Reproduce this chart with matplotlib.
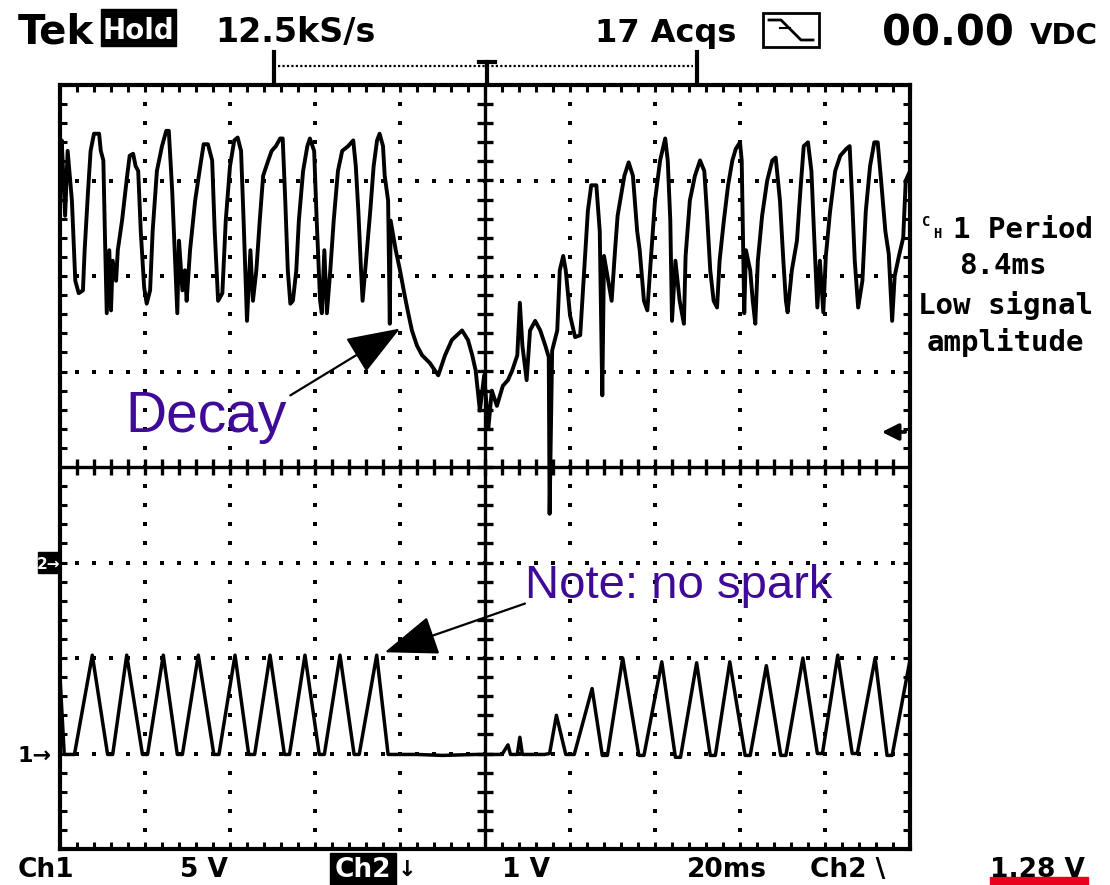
import numpy as np
import matplotlib
matplotlib.use("Agg")
import matplotlib.pyplot as plt
from matplotlib.patches import Rectangle, FancyArrowPatch, ArrowStyle
from matplotlib.lines import Line2D
from matplotlib.ticker import MultipleLocator
from matplotlib.transforms import Affine2D
from matplotlib import font_manager as fm

# ---------------- data (screen divisions: x 0..10, y 0..8 from bottom) ----------------
ch1_x = [0.00, 0.02, 0.06, 0.09, 0.14, 0.18, 0.22, 0.27, 0.29, 0.33,
         0.36, 0.40, 0.46, 0.48, 0.51, 0.53, 0.55, 0.58, 0.60, 0.62,
         0.66, 0.68, 0.73, 0.79, 0.82, 0.86, 0.89, 0.92, 0.95, 0.99,
         1.02, 1.06, 1.09, 1.14, 1.20, 1.25, 1.28, 1.32, 1.38, 1.40,
         1.44, 1.47, 1.49, 1.53, 1.59, 1.65, 1.69, 1.74, 1.79, 1.82,
         1.86, 1.91, 1.95, 2.00, 2.05, 2.09, 2.13, 2.16, 2.20, 2.24,
         2.27, 2.31, 2.35, 2.39, 2.45, 2.49, 2.54, 2.59, 2.62, 2.65,
         2.68, 2.71, 2.74, 2.78, 2.81, 2.86, 2.91, 2.94, 2.99, 3.02,
         3.06, 3.08, 3.11, 3.14, 3.18, 3.22, 3.27, 3.32, 3.39, 3.45,
         3.48, 3.51, 3.54, 3.56, 3.60, 3.65, 3.69, 3.73, 3.76, 3.80,
         3.82, 3.86, 3.88, 3.89, 3.95, 4.00, 4.05, 4.09, 4.14, 4.20,
         4.26, 4.35, 4.45, 4.53, 4.61, 4.73, 4.80, 4.85, 4.89, 4.94,
         4.99, 5.04, 5.08, 5.14, 5.21, 5.27, 5.32, 5.38, 5.41, 5.44,
         5.49, 5.53, 5.59, 5.65, 5.71, 5.75, 5.76, 5.79, 5.85, 5.88,
         5.92, 5.95, 6.00, 6.06, 6.12, 6.16, 6.21, 6.25, 6.31, 6.35,
         6.38, 6.40, 6.45, 6.49, 6.53, 6.56, 6.64, 6.69, 6.74, 6.79,
         6.82, 6.87, 6.91, 6.95, 7.00, 7.06, 7.12, 7.15, 7.18, 7.20,
         7.24, 7.29, 7.34, 7.36, 7.41, 7.47, 7.53, 7.58, 7.61, 7.65,
         7.69, 7.73, 7.76, 7.81, 7.86, 7.91, 7.95, 8.00, 8.02, 8.05,
         8.07, 8.12, 8.15, 8.18, 8.21, 8.26, 8.32, 8.38, 8.42, 8.47,
         8.51, 8.54, 8.56, 8.61, 8.67, 8.71, 8.75, 8.80, 8.84, 8.87,
         8.91, 8.94, 8.98, 9.01, 9.06, 9.12, 9.18, 9.25, 9.29, 9.32,
         9.35, 9.39, 9.44, 9.48, 9.53, 9.58, 9.62, 9.66, 9.71, 9.75,
         9.79, 9.82, 9.87, 9.92, 9.95, 10.00]
ch1_y = [7.10, 7.42, 6.63, 7.31, 6.79, 5.95, 5.82, 5.85, 6.27, 6.89,
         7.31, 7.49, 7.49, 7.31, 7.21, 6.37, 5.61, 6.27, 5.64, 6.16,
         5.95, 6.27, 6.58, 7.05, 7.26, 7.28, 7.15, 7.10, 6.47, 5.88,
         5.71, 5.85, 6.47, 7.10, 7.36, 7.52, 7.52, 6.89, 5.61, 6.37,
         5.85, 6.06, 5.74, 6.27, 6.79, 7.15, 7.38, 7.38, 7.21, 6.47,
         5.74, 5.82, 6.58, 7.15, 7.42, 7.45, 7.31, 6.58, 5.53, 6.27,
         5.74, 6.06, 6.58, 7.05, 7.21, 7.31, 7.36, 7.44, 7.44, 6.79,
         6.06, 5.71, 5.74, 6.06, 6.58, 7.10, 7.36, 7.44, 7.31, 6.58,
         5.74, 5.61, 6.27, 5.61, 6.06, 6.58, 7.10, 7.31, 7.36, 7.42,
         7.15, 6.68, 6.09, 5.74, 6.16, 6.68, 7.15, 7.42, 7.49, 7.36,
         7.05, 6.79, 5.50, 6.58, 6.27, 6.06, 5.82, 5.64, 5.43, 5.27,
         5.17, 5.09, 4.96, 5.17, 5.33, 5.43, 5.33, 5.17, 5.01, 4.59,
         4.96, 4.41, 4.80, 4.64, 4.85, 4.91, 5.01, 5.17, 5.72, 5.27,
         4.91, 5.43, 5.53, 5.43, 5.27, 5.15, 3.51, 5.22, 5.43, 6.06,
         6.21, 6.06, 5.59, 5.36, 5.38, 5.95, 6.68, 6.95, 6.95, 6.47,
         4.75, 6.21, 5.95, 5.74, 6.27, 6.63, 7.05, 7.19, 7.05, 6.47,
         6.27, 5.74, 5.64, 6.16, 6.79, 7.21, 7.44, 7.21, 6.58, 5.53,
         6.16, 5.74, 5.50, 6.21, 6.79, 7.05, 7.21, 7.10, 6.68, 6.06,
         5.74, 5.67, 6.16, 6.58, 6.95, 7.21, 7.33, 7.40, 7.21, 5.61,
         6.27, 6.06, 5.74, 5.50, 6.16, 6.63, 7.00, 7.21, 7.24, 6.79,
         6.16, 5.74, 5.62, 6.06, 6.37, 6.89, 7.36, 7.40, 7.10, 6.47,
         5.67, 6.16, 5.62, 6.21, 6.68, 7.10, 7.26, 7.33, 7.36, 6.79,
         6.16, 5.67, 5.95, 6.68, 7.15, 7.40, 7.40, 7.00, 6.47, 6.23,
         5.53, 6.00, 6.21, 6.40, 7.00, 7.10]

ch2_x = [0.00, 0.05, 0.17, 0.38, 0.56, 0.62, 0.785, 0.97, 1.03, 1.215,
         1.38, 1.44, 1.627, 1.81, 1.87, 2.059, 2.22, 2.29, 2.471, 2.64,
         2.70, 2.882, 3.05, 3.11, 3.294, 3.46, 3.52, 3.726, 3.86, 4.20,
         4.50, 4.90, 5.20, 5.27, 5.30, 5.38, 5.41, 5.44, 5.70, 5.76,
         5.84, 5.95, 6.05, 6.26, 6.38, 6.44, 6.62, 6.81, 6.87, 7.08,
         7.24, 7.30, 7.49, 7.65, 7.71, 7.88, 8.06, 8.12, 8.31, 8.48,
         8.54, 8.74, 8.91, 8.97, 9.15, 9.32, 9.38, 9.59, 9.73, 9.79, 10.0]
ch2_y = [1.80, 0.99, 0.99, 2.03, 0.99, 0.99, 2.03, 0.99, 0.99, 2.03,
         0.99, 0.99, 2.03, 0.99, 0.99, 2.03, 0.99, 0.99, 2.03, 0.99,
         0.99, 2.03, 0.99, 0.99, 2.03, 0.99, 0.99, 2.03, 0.99, 0.99,
         0.98, 0.99, 0.99, 1.09, 0.99, 0.99, 1.17, 0.99, 0.99, 1.00,
         1.40, 0.99, 0.99, 1.68, 0.98, 0.98, 2.00, 0.98, 0.98, 1.96,
         0.96, 0.96, 1.95, 0.98, 0.98, 1.96, 0.98, 0.98, 1.92, 0.98,
         0.98, 2.00, 1.00, 1.00, 2.03, 1.00, 1.00, 2.00, 0.98, 0.98, 1.98]

decay_label = "Decay"
decay_tip = (4.00, 5.45)
decay_tail = (2.71, 4.75)
spark_label = "Note: no spark"
spark_tip = (3.82, 2.06)
spark_tail = (5.47, 2.57)

header_texts = ["Tek", "Hold", "12.5kS/s", "17 Acqs", "00.00", "VDC"]
footer_texts = ["Ch1", "5 V", "Ch2", "\u2193", "1 V", "20ms", "Ch2 \\", "1.28 V"]
side_lines = ["1 Period", "8.4ms", "Low signal", "amplitude"]

# ---------------- figure ----------------
W, H = 1110, 885
fig = plt.figure(figsize=(W / 100, H / 100), dpi=100)
fig.patch.set_facecolor("white")
pix = Affine2D().scale(1.0 / W, -1.0 / H).translate(0, 1) + fig.transFigure

names = {f.name for f in fm.fontManager.ttflist}
HUD = "Liberation Sans Narrow" if "Liberation Sans Narrow" in names else "DejaVu Sans"
SANS = "Liberation Sans" if "Liberation Sans" in names else "DejaVu Sans"
MONO = "DejaVu Sans Mono"
PURPLE = "#3f0a98"

L, R, T, B = 60, 910, 85, 849
ax = fig.add_axes([L / W, (H - B) / H, (R - L) / W, (B - T) / H])
ax.set_xlim(0, 10)
ax.set_ylim(0, 8)
for s in ax.spines.values():
    s.set_linewidth(3.0)
ax.xaxis.set_major_locator(MultipleLocator(0.2))
ax.yaxis.set_major_locator(MultipleLocator(0.2))
ax.tick_params(which="both", direction="in", length=5, width=2.2,
               top=True, right=True, labelbottom=False, labelleft=False)

# dotted graticule
for i in range(1, 10):
    if i == 5:
        continue
    yy = np.arange(0.2, 8.0, 0.2)
    ax.plot(np.full_like(yy, i), yy, ls="none", marker="s", ms=2.2,
            color="black", mew=0)
for j in range(1, 8):
    if j == 4:
        continue
    xx = np.arange(0.2, 10.0, 0.2)
    ax.plot(xx, np.full_like(xx, j), ls="none", marker="s", ms=2.2,
            color="black", mew=0)
# centre cross with ticks
ax.axvline(5, color="black", lw=2.4)
ax.axhline(4, color="black", lw=2.4)
yy = np.arange(0.2, 8.0, 0.2)
ax.plot(np.full_like(yy, 5), yy, ls="none", marker="_", ms=11, mew=2.4, color="black")
xx = np.arange(0.2, 10.0, 0.2)
ax.plot(xx, np.full_like(xx, 4), ls="none", marker="|", ms=11, mew=2.4, color="black")

# traces
ax.plot(ch1_x, ch1_y, color="black", lw=2.8, zorder=5)
ax.plot(ch2_x, ch2_y, color="black", lw=2.5, zorder=5)

# annotations
for tip, tail in [(decay_tip, decay_tail), (spark_tip, spark_tail)]:
    ax.add_patch(FancyArrowPatch(tail, tip,
                 arrowstyle=ArrowStyle("-|>", head_length=0.75, head_width=0.28),
                 mutation_scale=45, lw=1.6, color="black", zorder=6,
                 shrinkA=0, shrinkB=0))
fig.text(125, 432, decay_label, transform=pix, family=SANS, fontsize=41,
         color=PURPLE, va="baseline", ha="left")
fig.text(525, 598, spark_label, transform=pix, family=SANS, fontsize=34,
         color=PURPLE, va="baseline", ha="left")

# ---------------- HUD text ----------------
def hud(x, y, s, size, color="black", ha="left", family=None, weight="bold"):
    fig.text(x, y, s, transform=pix, fontsize=size, color=color, ha=ha,
             va="baseline", family=family or HUD, weight=weight)

# header
hud(18, 44, header_texts[0], 29)
fig.add_artist(Rectangle((101, 9), 75, 37, transform=pix, color="black"))
hud(138, 39, header_texts[1], 20, color="white", ha="center")
hud(215, 42, header_texts[2], 24)
hud(595, 42, header_texts[3], 23)
fig.add_artist(Rectangle((763, 13), 56, 34, transform=pix, fill=False,
                         lw=2.0, ec="black"))
fig.add_artist(Line2D([769, 781, 801, 813], [20, 20, 40, 40], transform=pix,
                      color="black", lw=2.0))
fig.add_artist(Line2D([780, 790], [28, 28], transform=pix, color="black", lw=1.5))
hud(882, 45, header_texts[4], 30)
hud(1030, 44, header_texts[5], 21)

# trigger position bar
fig.add_artist(Line2D([274, 274], [52, 83], transform=pix, color="black", lw=3.0))
fig.add_artist(Line2D([697, 697], [52, 83], transform=pix, color="black", lw=3.0))
fig.add_artist(Line2D([278, 693], [66, 66], transform=pix, color="black", lw=1.6,
                      ls=(0, (1, 1))))
fig.add_artist(Line2D([479, 495], [62, 62], transform=pix, color="black", lw=3.0))
fig.add_artist(Line2D([487, 487], [62, 81], transform=pix, color="black", lw=3.0))

# footer
FS = 19
FB = 877
hud(18, FB, footer_texts[0], FS)
hud(180, FB, footer_texts[1], FS)
fig.add_artist(Rectangle((330, 853), 66, 32, transform=pix, color="black"))
hud(363, FB, footer_texts[2], FS, color="white", ha="center")
hud(398, FB - 1, footer_texts[3], 16, family="DejaVu Sans")
hud(502, FB, footer_texts[4], FS)
hud(687, FB, footer_texts[5], FS)
hud(810, FB, footer_texts[6], FS)
hud(990, FB, footer_texts[7], FS)
fig.add_artist(Rectangle((990, 877), 98, 8, transform=pix, color="#e8001c"))

# channel markers
fig.add_artist(Rectangle((38, 552), 22, 21, transform=pix, color="black"))
hud(49, 569, "2\u2192", 11, color="white", ha="center", family="DejaVu Sans")
hud(18, 762, "1\u2192", 16, family="DejaVu Sans")
fig.add_artist(FancyArrowPatch((908, 432), (879, 432), transform=pix,
               arrowstyle=ArrowStyle("-|>", head_length=0.5, head_width=0.25),
               mutation_scale=20, lw=2.6, color="black"))

# right-hand measurement readout
hud(922, 226, "C", 10, family=MONO)
hud(933, 238, "H", 10, family=MONO)
hud(953, 238, side_lines[0], 21, family=MONO)
hud(1003, 274, side_lines[1], 21, family=MONO, ha="center")
hud(1006, 314, side_lines[2], 21, family=MONO, ha="center")
hud(1005, 351, side_lines[3], 21, family=MONO, ha="center")

fig.savefig("out.png", dpi=100, facecolor="white")
